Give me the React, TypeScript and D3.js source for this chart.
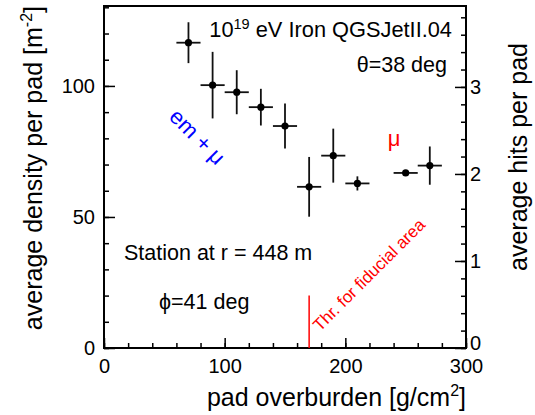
import React, { useEffect, useRef } from 'react'
import * as d3 from 'd3'

// pad overburden bins [g/cm^2] and average density per pad [m^-2]
const overburden = [70, 90, 110, 130, 150, 170, 190, 210, 250, 270]
const overburdenErr = [10, 10, 10, 10, 10, 10, 10, 10, 10, 10]
const density = [116.5, 100.3, 97.6, 91.9, 84.7, 61.5, 73.4, 62.8, 66.8, 69.6]
const densityErr = [7.8, 12.7, 8.4, 7.0, 8.6, 11.4, 10.3, 2.7, 0.8, 7.3]

const xTicks = [0, 100, 200, 300]
const yTicks = [0, 50, 100]
const hitsTicks = [0, 1, 2, 3]

// fiducial area threshold
const thrOverburden = 170
const thrDensity = 20

const FONT = '"Liberation Sans", Arial, Helvetica, sans-serif'

const W = 535
const H = 415
const margin = { top: 6, right: 69, bottom: 67, left: 104 }

export default function App() {
  const svgRef = useRef<SVGSVGElement>(null)

  useEffect(() => {
    const svg = d3.select(svgRef.current)
    svg.selectAll('*').remove()

    const x0 = margin.left
    const x1 = W - margin.right
    const y0 = H - margin.bottom
    const y1 = margin.top

    const x = d3.scaleLinear().domain([0, 300]).range([x0, x1])
    const y = d3.scaleLinear().domain([0, 130.5]).range([y0, y1])
    const yHits = d3.scaleLinear().domain([0, 3.93]).range([y0, y1])

    const styleAxis = (g, withText) => {
      g.select('.domain').remove()
      g.selectAll('line').attr('stroke', '#000').attr('stroke-width', 1.5)
      if (withText) {
        g.selectAll('text')
          .attr('font-family', FONT)
          .attr('font-size', 20)
          .attr('fill', '#000')
      } else {
        g.selectAll('text').remove()
      }
    }

    // x axis: minor every 20, major every 100
    svg.append('g')
      .attr('transform', `translate(0,${y0})`)
      .call(d3.axisBottom(x).tickValues(d3.range(0, 301, 20)).tickSize(-5).tickFormat(() => ''))
      .call(g => styleAxis(g, false))
    svg.append('g')
      .attr('transform', `translate(0,${y0})`)
      .call(d3.axisBottom(x).tickValues(xTicks).tickSize(-10).tickPadding(6).tickFormat(d3.format('d')))
      .call(g => styleAxis(g, true))
      .selectAll('text').attr('dy', '0.95em')

    // left axis: minor every 10, major every 50
    svg.append('g')
      .attr('transform', `translate(${x0},0)`)
      .call(d3.axisLeft(y).tickValues(d3.range(0, 131, 10)).tickSize(-5).tickFormat(() => ''))
      .call(g => styleAxis(g, false))
    svg.append('g')
      .attr('transform', `translate(${x0},0)`)
      .call(d3.axisLeft(y).tickValues(yTicks).tickSize(-11).tickPadding(9).tickFormat(d3.format('d')))
      .call(g => styleAxis(g, true))

    // right axis: hits per pad
    svg.append('g')
      .attr('transform', `translate(${x1},0)`)
      .call(d3.axisRight(yHits).tickValues(d3.range(0, 3.9, 0.2)).tickSize(-5).tickFormat(() => ''))
      .call(g => styleAxis(g, false))
    svg.append('g')
      .attr('transform', `translate(${x1},0)`)
      .call(d3.axisRight(yHits).tickValues(hitsTicks).tickSize(-11).tickPadding(4).tickFormat(d3.format('d')))
      .call(g => styleAxis(g, true))
      .selectAll('text')
      .filter(d => d === 0)
      .attr('dy', '0.05em')

    // frame
    svg.append('rect')
      .attr('x', x0).attr('y', y1)
      .attr('width', x1 - x0).attr('height', y0 - y1)
      .attr('fill', 'none').attr('stroke', '#000').attr('stroke-width', 2)

    // threshold line
    svg.append('line')
      .attr('x1', x(thrOverburden)).attr('x2', x(thrOverburden))
      .attr('y1', y(0)).attr('y2', y(thrDensity))
      .attr('stroke', '#ff0000').attr('stroke-width', 1.5)

    // data points with error bars
    const data = overburden.map((o, i) => ({ o, oe: overburdenErr[i], d: density[i], de: densityErr[i] }))
    const pts = svg.append('g').selectAll('g').data(data).join('g')
    pts.append('line')
      .attr('x1', p => x(p.o - p.oe)).attr('x2', p => x(p.o + p.oe))
      .attr('y1', p => y(p.d)).attr('y2', p => y(p.d))
      .attr('stroke', '#111').attr('stroke-width', 1.8)
    pts.append('line')
      .attr('x1', p => x(p.o)).attr('x2', p => x(p.o))
      .attr('y1', p => y(p.d - p.de)).attr('y2', p => y(p.d + p.de))
      .attr('stroke', '#111').attr('stroke-width', 1.8)
    pts.append('circle')
      .attr('cx', p => x(p.o)).attr('cy', p => y(p.d)).attr('r', 3.6)
      .attr('fill', '#000')

    const txt = (tx, ty, size, anchor = 'start', color = '#000') =>
      svg.append('text')
        .attr('x', tx).attr('y', ty)
        .attr('font-family', FONT).attr('font-size', size)
        .attr('text-anchor', anchor).attr('fill', color)

    // annotations
    const t1 = txt(452, 37, 21.8, 'end')
    t1.append('tspan').text('10')
    t1.append('tspan').attr('font-size', 14.5).attr('dy', -8).text('19')
    t1.append('tspan').attr('dy', 8).text(' eV Iron QGSJetII.04')

    txt(447, 72, 21.5, 'end').text('θ=38 deg')
    txt(124, 260, 21.5).text('Station at r = 448 m')
    txt(159, 309, 21.5).text('ϕ=41 deg')
    txt(394, 146, 22, 'middle', '#ff0000').text('μ')

    txt(0, 0, 22, 'start', '#0000ff')
      .attr('transform', 'translate(168,118) rotate(45)')
      .text('em + μ')

    txt(0, 0, 17, 'start', '#ff0000')
      .attr('transform', 'translate(320,332) rotate(-45)')
      .text('Thr. for fiducial area')

    // axis titles
    const xt = txt(x1, 406, 25, 'end')
    xt.append('tspan').text('pad overburden [g/cm')
    xt.append('tspan').attr('font-size', 16).attr('dy', -10).text('2')
    xt.append('tspan').attr('dy', 10).text(']')

    const yt = txt(0, 0, 25, 'end').attr('transform', `translate(42,${y1}) rotate(-90)`)
    yt.append('tspan').text('average density per pad [m')
    yt.append('tspan').attr('font-size', 16).attr('dy', -10).text('-2')
    yt.append('tspan').attr('dy', 10).text(']')

    txt(0, 0, 25, 'end')
      .attr('transform', 'translate(527,43) rotate(-90)')
      .text('average hits per pad')
  }, [])

  return (
    <svg
      ref={svgRef}
      width={W}
      height={H}
      style={{ position: 'absolute', left: 0, top: 0, background: '#fff' }}
    />
  )
}
